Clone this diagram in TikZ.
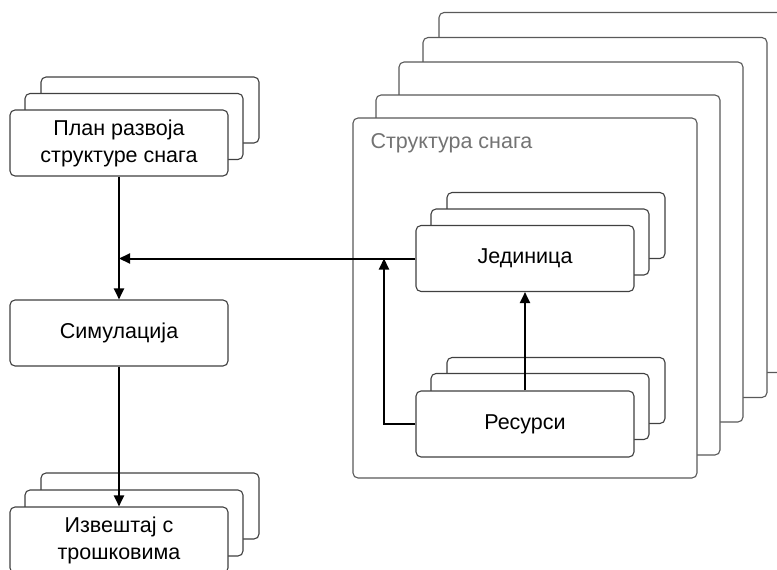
\documentclass[tikz,border=0pt]{standalone}
\usepackage{fontspec}
\setmainfont{Liberation Sans}
\usetikzlibrary{arrows.meta}

\begin{document}
\begin{tikzpicture}[x=1pt, y=-1pt,
		>={Triangle[length=11pt, width=10pt]},
		box/.style={draw=black!75, line width=1.1pt, fill=white, rounded corners=5pt,
			minimum width=218pt, minimum height=66pt, inner sep=0pt, align=center,
			font=\fontsize{21.5}{27}\selectfont},
		bigbox/.style={box, draw=black!65, minimum width=344pt, minimum height=360pt},
		flow/.style={->, line width=2pt}]
		\useasboundingbox (0, 0) rectangle (777, 570);

		% structure of forces, stacked
		\node[bigbox] (struct5) at (611, 192.5) {};
		\node[bigbox] (struct4) at (595, 217.5) {};
		\node[bigbox] (struct3) at (571, 242) {};
		\node[bigbox] (struct2) at (548, 275) {};
		\node[bigbox] (struct) at (525, 298) {};
		\node[anchor=west, text=black!55, font=\fontsize{21.5}{27}\selectfont] (structlabel) at (367, 143) {Структура снага};

		% left column
		\node[box] (plan3) at (150, 110) {};
		\node[box] (plan2) at (134, 126.5) {};
		\node[box] (plan) at (119, 143) {План развоја\\структуре снага};
		\node[box] (sim) at (119, 333) {Симулација};
		\node[box] (report3) at (150, 506) {};
		\node[box] (report2) at (134, 523) {};
		\node[box] (report) at (119, 540) {Извештај с\\трошковима};

		% units and resources
		\node[box] (unit3) at (556, 225.5) {};
		\node[box] (unit2) at (540, 242) {};
		\node[box] (unit) at (525, 258.5) {Јединица};
		\node[box] (res3) at (556, 390.5) {};
		\node[box] (res2) at (540, 406.5) {};
		\node[box] (res) at (525, 424) {Ресурси};
		\coordinate (join) at (384, 258.5);

		\draw[flow] (plan) -- (sim);
		\draw[flow] (sim) -- (report);
		\draw[flow] (unit.west) -- (unit.west -| plan.south);
		\draw[flow] (res) -- (unit);
		\draw[flow] (res.west) -| (join);
	\end{tikzpicture}
\end{document}
